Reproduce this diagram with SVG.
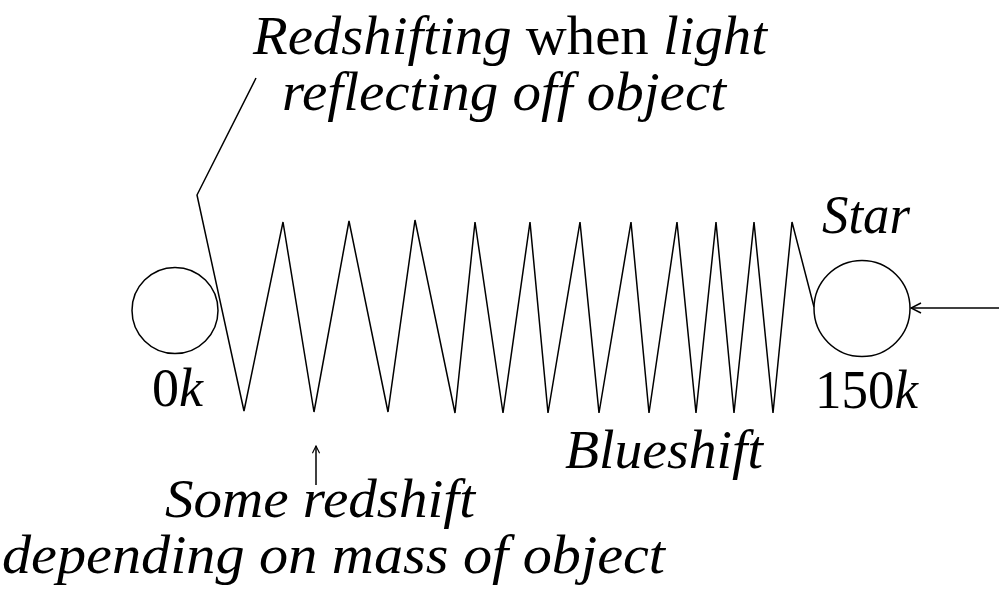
<svg xmlns="http://www.w3.org/2000/svg" width="999" height="590" viewBox="0 0 999 590">
<style>
.t{font-family:"Liberation Serif","Times New Roman",Tinos,"Noto Serif","DejaVu Serif",serif;font-size:55px;fill:#000}
.i{font-style:italic}
.ln{fill:none;stroke:#000;stroke-width:1.5;stroke-linejoin:miter}
.nd{fill:#fff;stroke:#000;stroke-width:1.5}
</style>
<defs>
<marker id="ah" viewBox="0 0 12 12" refX="11" refY="6" markerWidth="12" markerHeight="12" markerUnits="userSpaceOnUse" orient="auto">
<path d="M1,1 L11,6 L1,11" fill="none" stroke="#000" stroke-width="1.5"/>
</marker>
<marker id="ahs" viewBox="0 0 10 10" refX="9" refY="5" markerWidth="9" markerHeight="9" markerUnits="userSpaceOnUse" orient="auto">
<path d="M1,1 L9,5 L1,9" fill="none" stroke="#000" stroke-width="1.3"/>
</marker>
</defs>
<rect width="999" height="590" fill="#fff"/>
<g id="connectors">
<polyline class="ln" points="256,78 197,195 244,411 283,222 314,412 349,221 388,412 415,220 455,413 475,222 503,413 530,222 548,413 580,222 599,413 631,222 649,413 677,222 696,413 716,222 734,413 754,222 773,413 792,222 814,307"/>
<line class="ln" x1="999" y1="308" x2="911" y2="308" marker-end="url(#ah)"/>
<line class="ln" x1="316" y1="485" x2="316" y2="446" stroke-width="1.3" marker-end="url(#ahs)"/>
</g>
<g id="object">
<circle class="nd" cx="175" cy="310.5" r="43"/>
<text class="t" x="152" y="406" textLength="51" lengthAdjust="spacingAndGlyphs">0<tspan class="i">k</tspan></text>
</g>
<g id="star">
<circle class="nd" cx="862" cy="308.5" r="48"/>
<text class="t i" x="822" y="233" textLength="88" lengthAdjust="spacingAndGlyphs">Star</text>
<text class="t" x="815" y="408" textLength="103" lengthAdjust="spacingAndGlyphs">150<tspan class="i">k</tspan></text>
</g>
<g id="label-redshifting">
<text class="t" x="253" y="54" textLength="514" lengthAdjust="spacingAndGlyphs"><tspan class="i">Redshifting</tspan> when <tspan class="i">light</tspan></text>
<text class="t i" x="282" y="110" textLength="444" lengthAdjust="spacingAndGlyphs">reflecting off object</text>
</g>
<g id="label-blueshift">
<text class="t i" x="565" y="468" textLength="198" lengthAdjust="spacingAndGlyphs">Blueshift</text>
</g>
<g id="label-some-redshift">
<text class="t i" x="165" y="517" textLength="310" lengthAdjust="spacingAndGlyphs">Some redshift</text>
<text class="t i" x="2" y="573" textLength="663" lengthAdjust="spacingAndGlyphs">depending on mass of object</text>
</g>
</svg>
